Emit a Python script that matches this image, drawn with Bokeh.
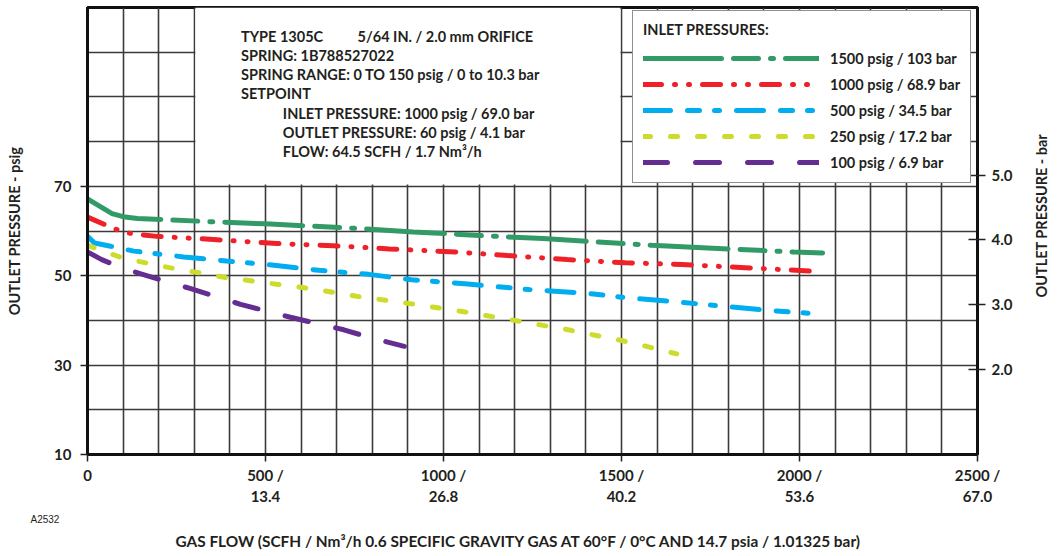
import math
from bokeh.plotting import figure
from bokeh.models import FixedTicker, LinearAxis, Label, Legend, LegendItem, Range1d, Title
from bokeh.embed import file_html
from bokeh.resources import INLINE

# ---------------- data (SCFH, outlet psig) ----------------
green_x = [0, 35, 69, 100, 140, 370, 500, 775, 915, 1100, 1280, 1585, 1985, 2065]
green_y = [67.2, 65.5, 63.9, 63.2, 62.8, 62.0, 61.6, 60.5, 59.8, 59.0, 58.3, 56.8, 55.3, 55.1]

red_x = [0, 64, 92, 125, 195, 354, 531, 690, 848, 1035, 1180, 1348, 1511, 1670, 1847, 2040]
red_y = [63.1, 60.9, 60.0, 59.4, 58.8, 58.1, 57.2, 56.7, 56.0, 55.3, 54.5, 53.6, 52.9, 52.5, 51.8, 51.0]

blue_x = [0, 20, 65, 130, 270, 390, 530, 650, 790, 910, 1060, 1240, 1400, 1500, 1660, 1920, 2045]
blue_y = [58.8, 57.3, 56.6, 55.5, 54.2, 53.3, 52.3, 51.2, 50.3, 49.1, 48.2, 46.9, 46.1, 45.2, 44.1, 42.2, 41.5]

yellow_x = [0, 90, 150, 230, 380, 530, 630, 755, 910, 1060, 1200, 1350, 1500, 1570, 1655]
yellow_y = [56.8, 54.2, 53.1, 51.8, 49.7, 48.1, 47.1, 45.4, 43.7, 41.9, 40.0, 37.9, 35.5, 34.2, 32.5]

purple_x = [0, 40, 80, 150, 290, 430, 570, 720, 800, 890]
purple_y = [55.3, 53.6, 52.3, 50.4, 47.1, 43.6, 40.7, 37.9, 36.0, 34.2]

series_labels = ["1500 psig / 103 bar", "1000 psig / 68.9 bar", "500 psig / 34.5 bar",
                 "250 psig / 17.2 bar", "100 psig / 6.9 bar"]

x_ticks = [0, 500, 1000, 1500, 2000, 2500]
x_nm3 = ["", "13.4", "26.8", "40.2", "53.6", "67.0"]
y_ticks = [10, 30, 50, 70]
bar_ticks = [2.0, 3.0, 4.0, 5.0]
PSI_PER_BAR = 14.5038

info_main = ["TYPE 1305C", "SPRING: 1B788527022", "SPRING RANGE: 0 TO 150 psig / 0 to 10.3 bar", "SETPOINT"]
info_orifice = "5/64 IN. / 2.0 mm ORIFICE"
info_setpoint = ["INLET PRESSURE: 1000 psig / 69.0 bar", "OUTLET PRESSURE: 60 psig / 4.1 bar",
                 "FLOW: 64.5 SCFH / 1.7 Nm\u00b3/h"]

x_title = "GAS FLOW (SCFH / Nm\u00b3/h 0.6 SPECIFIC GRAVITY GAS AT 60\u00b0F / 0\u00b0C AND 14.7 psia / 1.01325 bar)"
y_title = "OUTLET PRESSURE - psig"
y2_title = "OUTLET PRESSURE - bar"
fig_code = "A2532"

# ---------------- styling ----------------
FONT = "Lato"
TXT = "#231f20"
GRID = "#3a3a3a"

X0, X1, Y0, Y1 = 0, 2500, 10, 110
# frame geometry on the page (px), used to place texts inside the frame
FL, FR, FT, FB = 87, 980, 7, 454
W, H = 1061, 556


def px_x(px):
    return X0 + (px - FL) / (FR - FL) * (X1 - X0)


def px_y(py):
    return Y0 + (FB - py) / (FB - FT) * (Y1 - Y0)


p = figure(width=W, height=H, x_range=Range1d(X0, X1), y_range=Range1d(Y0, Y1),
           output_backend="svg", toolbar_location=None,
           min_border_left=FL, min_border_right=W - FR, min_border_top=FT, min_border_bottom=H - FB)
p.background_fill_color = "white"
p.border_fill_color = "white"
p.outline_line_color = "#111111"
p.outline_line_width = 3

# grid
p.xgrid.ticker = FixedTicker(ticks=list(range(X0, X1 + 1, 100)))
p.ygrid.ticker = FixedTicker(ticks=list(range(Y0, Y1 + 1, 10)))
for g in (p.xgrid, p.ygrid):
    g.grid_line_color = GRID
    g.grid_line_width = 1.6

# white panel behind the info text
p.quad(left=[303], right=[1497], bottom=[70.4], top=[Y1], fill_color="white", line_color=None)


def style_axis(ax):
    ax.axis_line_color = "#111111"
    ax.axis_line_width = 3
    ax.major_tick_line_color = "#222222"
    ax.major_tick_line_width = 1.5
    ax.minor_tick_line_color = None
    ax.major_label_text_font = FONT
    ax.major_label_text_font_style = "bold"
    ax.major_label_text_font_size = "15px"
    ax.major_label_text_color = TXT
    ax.axis_label_text_font = FONT
    ax.axis_label_text_font_style = "bold"
    ax.axis_label_text_font_size = "14.5px"
    ax.axis_label_text_color = TXT


# bottom axis
xa = p.xaxis[0]
xa.ticker = FixedTicker(ticks=x_ticks)
xa.major_label_overrides = {t: (str(t) if not n else f"{t} /\n{n}") for t, n in zip(x_ticks, x_nm3)}
style_axis(xa)
xa.major_tick_in = 0
xa.major_tick_out = 7
xa.major_label_standoff = 4

# left axis
ya = p.yaxis[0]
ya.ticker = FixedTicker(ticks=y_ticks)
style_axis(ya)
ya.major_tick_in = 0
ya.major_tick_out = 7
ya.major_label_standoff = 9
ya.axis_label = y_title
ya.axis_label_standoff = 28

# right axis (bar)
rticks = [b * PSI_PER_BAR for b in bar_ticks]
ra = LinearAxis(ticker=FixedTicker(ticks=rticks),
                major_label_overrides={t: f"{b:.1f}" for t, b in zip(rticks, bar_ticks)})
style_axis(ra)
ra.major_tick_in = 9
ra.major_tick_out = 8
ra.major_label_standoff = 6
p.add_layout(ra, "right")

# right-hand title: a bare axis whose single tick label carries the text (reads bottom-to-top)
title_anchor = px_y(297)
ta = LinearAxis(ticker=FixedTicker(ticks=[title_anchor]),
                major_label_overrides={title_anchor: y2_title})
style_axis(ta)
ta.major_label_text_font_size = "14.5px"
ta.axis_line_color = None
ta.major_tick_line_color = None
ta.major_tick_in = 0
ta.major_tick_out = 0
ta.major_label_standoff = 26
ta.major_label_orientation = math.pi / 2
p.add_layout(ta, "right")

# texts below the axis
p.add_layout(Title(text=fig_code, align="left", offset=30 - FL, standoff=7,
                   text_font="Liberation Sans", text_font_style="normal", text_font_size="10px",
                   text_color=TXT), "below")
p.add_layout(Title(text=x_title, align="left", offset=175 - FL, standoff=3,
                   text_font=FONT, text_font_style="bold", text_font_size="15.4px",
                   text_color=TXT), "below")

# curves
specs = [
    (green_x, green_y, "#329a66", "78 12 25 12 3 12"),
    (red_x, red_y, "#ee2128", "18 13 1 13 1 13"),
    (blue_x, blue_y, "#00aeef", "27 17 12 15 5 17"),
    (yellow_x, yellow_y, "#cddc2a", "7 20"),
    (purple_x, purple_y, "#662d91", "24 28"),
]
items = []
for (xs, ys, col, dash), lab in zip(specs, series_labels):
    r = p.line(xs, ys, line_color=col, line_width=5, line_dash=dash, line_cap="round")
    items.append(LegendItem(label=lab, renderers=[r]))

legend = Legend(items=items, location=(545, 271), title="INLET PRESSURES:",
                border_line_color="#222222", border_line_width=1.3,
                background_fill_color="white", background_fill_alpha=1.0,
                glyph_width=176, glyph_height=20, label_height=20, spacing=6,
                padding=10, margin=0, label_standoff=11, title_standoff=10,
                label_text_font=FONT, label_text_font_style="bold", label_text_font_size="14.5px",
                label_text_color=TXT,
                title_text_font=FONT, title_text_font_style="bold", title_text_font_size="14.5px",
                title_text_color=TXT)
p.add_layout(legend)


def add_text(txt, px, py):
    p.add_layout(Label(x=px_x(px), y=px_y(py), text=txt, text_font=FONT, text_font_style="bold",
                       text_font_size="14.5px", text_color=TXT, text_align="left",
                       text_baseline="middle"))


# info block
rows_y = [36, 55, 74, 93, 113, 132, 151]
for t, yy in zip(info_main, rows_y[:4]):
    add_text(t, 241, yy)
add_text(info_orifice, 358, rows_y[0])
for t, yy in zip(info_setpoint, rows_y[4:]):
    add_text(t, 283, yy)

open("out.html", "w").write(file_html(p, INLINE))
